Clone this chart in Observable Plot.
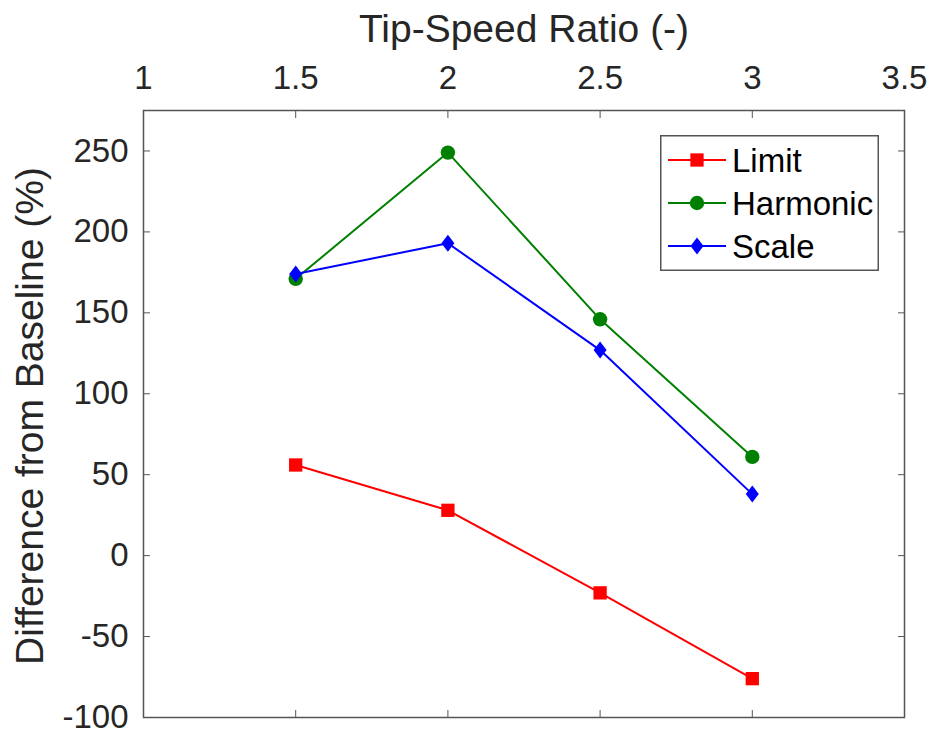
<!DOCTYPE html>
<html>
<head>
<meta charset="utf-8">
<script src="https://cdn.jsdelivr.net/npm/d3@7"></script>
<script src="https://cdn.jsdelivr.net/npm/@observablehq/plot@0.6"></script>
<style>
  html, body { margin: 0; padding: 0; background: #fff; }
  #wrap { position: relative; width: 933px; height: 736px; font-family: "Liberation Sans", Arial, sans-serif; }
  #legend { position: absolute; left: 660px; top: 135px; }
</style>
</head>
<body>
<div id="wrap"></div>
<script>
// ---- data ----
const tsr = [1.5, 2, 2.5, 3];
const limit = [56, 28, -23, -76];
const harmonic = [171, 249, 146, 61];
const scaleVals = [174, 193, 127, 38];
const seriesNames = ["Limit", "Harmonic", "Scale"];
const seriesColors = ["#ff0000", "#008000", "#0000ff"];
const xTicks = [1, 1.5, 2, 2.5, 3, 3.5];
const xTickLabels = ["1", "1.5", "2", "2.5", "3", "3.5"];
const yTicks = [-100, -50, 0, 50, 100, 150, 200, 250];
const yTickLabels = ["-100", "-50", "0", "50", "100", "150", "200", "250"];
const xLabel = "Tip-Speed Ratio (-)";
const yLabel = "Difference from Baseline (%)";

const seriesValues = [limit, harmonic, scaleVals];
const rows = [];
seriesNames.forEach((s, i) => tsr.forEach((x, j) => rows.push({series: s, x, y: seriesValues[i][j]})));

const diamond = {
  draw(ctx) {
    ctx.moveTo(0, -8.5); ctx.lineTo(6.5, 0); ctx.lineTo(0, 8.5); ctx.lineTo(-6.5, 0); ctx.closePath();
  }
};
const symbols = {Limit: "square", Harmonic: "circle", Scale: diamond};
const radii = {Limit: 7.5, Harmonic: 7.2, Scale: 7};

const axisColor = "#555";
const textColor = "#262626";

const seriesMarks = [];
seriesNames.forEach((s, i) => {
  const d = rows.filter(r => r.series === s);
  seriesMarks.push(Plot.line(d, {x: "x", y: "y", stroke: seriesColors[i], strokeWidth: 2}));
  seriesMarks.push(Plot.dot(d, {x: "x", y: "y", fill: seriesColors[i], stroke: "none", symbol: () => symbols[s], r: radii[s]}));
});

const xFmt = d => xTickLabels[xTicks.indexOf(d)];
const yFmt = d => yTickLabels[yTicks.indexOf(d)];

const chart = Plot.plot({
  width: 933,
  height: 736,
  marginLeft: 143,
  marginRight: 29,
  marginTop: 110,
  marginBottom: 19,
  x: {domain: [1, 3.5]},
  y: {domain: [-100, 275]},
  style: {fontFamily: "'Liberation Sans', Arial, sans-serif", color: textColor, background: "#fff"},
  marks: [
    Plot.axisX({anchor: "top", ticks: xTicks, tickFormat: xFmt, tickSize: -7, tickPadding: 29, fontSize: 33, label: null, stroke: axisColor, fill: textColor}),
    Plot.axisX({anchor: "bottom", ticks: xTicks, tickSize: -7, tickFormat: () => "", label: null, stroke: axisColor}),
    Plot.axisY({anchor: "left", ticks: yTicks, tickFormat: yFmt, tickSize: -7, tickPadding: 22, fontSize: 33, label: null, stroke: axisColor, fill: textColor}),
    Plot.axisY({anchor: "right", ticks: yTicks, tickSize: -7, tickFormat: () => "", label: null, stroke: axisColor}),
    Plot.frame({stroke: axisColor, strokeWidth: 1.5}),
    ...seriesMarks,
    Plot.text([xLabel], {text: d => d, frameAnchor: "top", dy: -81, fontSize: 39, fill: textColor, lineAnchor: "middle", textAnchor: "middle"}),
    Plot.text([yLabel], {text: d => d, frameAnchor: "left", rotate: -90, dx: -113, dy: 2, fontSize: 39, fill: textColor, lineAnchor: "middle", textAnchor: "middle"})
  ]
});
document.getElementById("wrap").appendChild(chart);

// ---- legend ----
const lw = 219, lh = 136;
const leg = d3.create("svg").attr("id", "legend").attr("width", lw).attr("height", lh);
leg.append("rect").attr("x", 0.75).attr("y", 0.75).attr("width", lw - 1.5).attr("height", lh - 1.5)
  .attr("fill", "#fff").attr("stroke", axisColor).attr("stroke-width", 1.5);
const symGen = {
  Limit: d3.symbol(d3.symbolSquare, Math.PI * 7.5 * 7.5),
  Harmonic: d3.symbol(d3.symbolCircle, Math.PI * 7.2 * 7.2),
  Scale: d3.symbol(diamond)
};
seriesNames.forEach((s, i) => {
  const g = leg.append("g").attr("transform", `translate(0,${25 + i * 43})`);
  g.append("line").attr("x1", 8).attr("x2", 66).attr("stroke", seriesColors[i]).attr("stroke-width", 2);
  g.append("path").attr("d", symGen[s]()).attr("transform", "translate(37,0)").attr("fill", seriesColors[i]);
  g.append("text").attr("x", 72).attr("dy", "0.35em").attr("font-size", 33)
    .attr("font-family", "'Liberation Sans', Arial, sans-serif").attr("fill", "#000").text(s);
});
document.getElementById("wrap").appendChild(leg.node());
</script>
</body>
</html>
